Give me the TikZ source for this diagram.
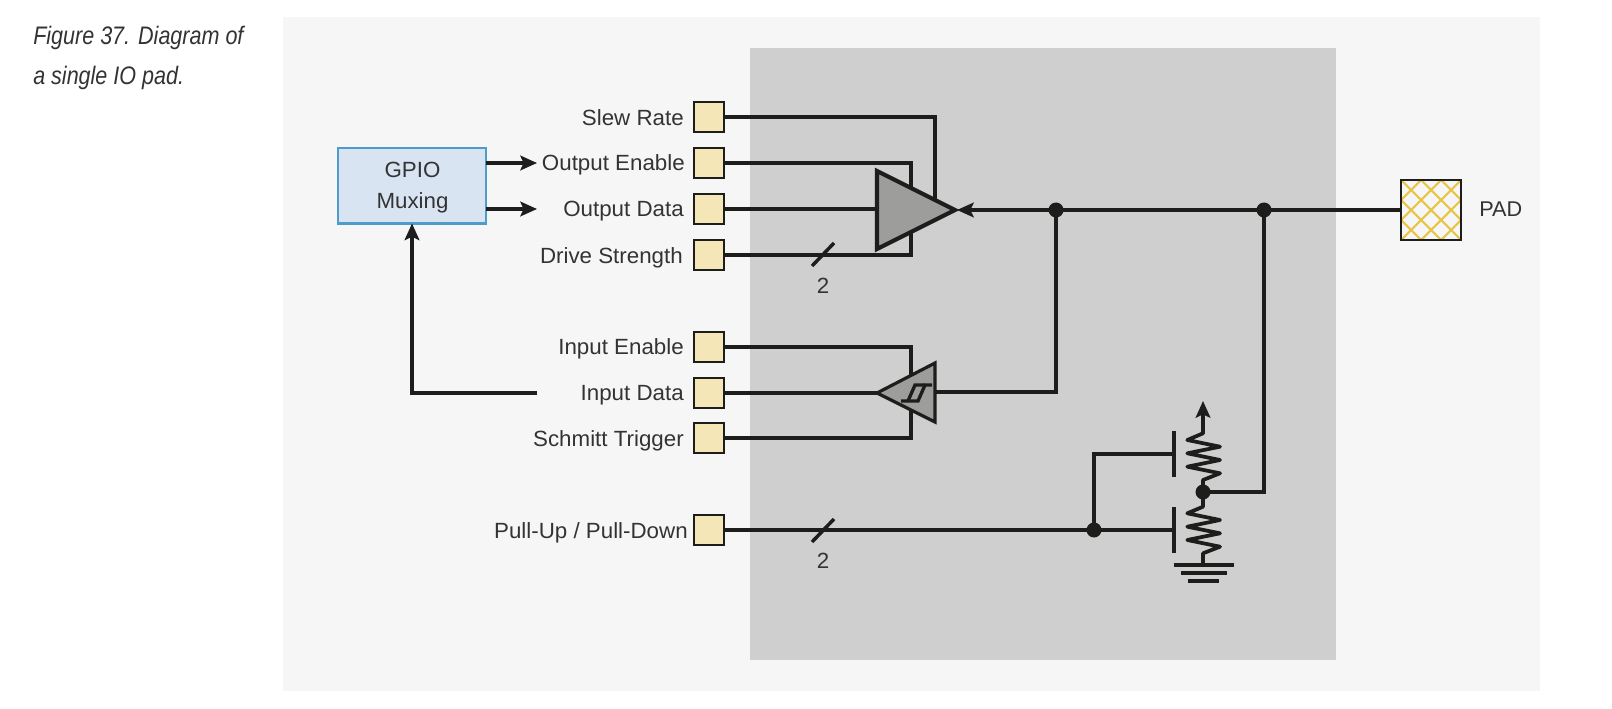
\documentclass[tikz,border=0pt]{standalone}
\usepackage{fontspec}
\setmainfont{Liberation Sans}[FakeStretch=1.015]
\newfontfamily\capfont[FakeStretch=0.85]{Liberation Sans}
\usetikzlibrary{arrows.meta}
\definecolor{ink}{HTML}{1D1D1B}
\definecolor{txt}{HTML}{333333}
\definecolor{panel}{HTML}{F6F6F6}
\definecolor{chip}{HTML}{CFCFCF}
\definecolor{tan}{HTML}{F5E6B8}
\definecolor{tri}{HTML}{9D9D9C}
\definecolor{gbox}{HTML}{D9E4F3}
\definecolor{gline}{HTML}{4F9BC9}
\definecolor{hatch}{HTML}{E8C547}
\tikzset{
  wire/.style={draw=ink,line width=2.95pt,line join=miter},
  thinwire/.style={draw=ink,line width=2.5pt,line join=miter},
  tip/.style={-{Stealth[length=12.5pt,width=11pt,inset=2.5pt]}},
  padbox/.style={draw=ink,fill=tan,line width=1.5pt,minimum size=22.5pt,inner sep=0pt,outer sep=0pt},
  lab/.style={anchor=base east,inner sep=0pt,text=txt,font=\fontsize{16.5}{18}\selectfont},
  lab2/.style={anchor=base,inner sep=0pt,text=txt,font=\fontsize{16.5}{18}\selectfont},
  dotn/.style={circle,fill=ink,minimum size=11.25pt,inner sep=0pt,outer sep=0pt},
  amp/.style={draw=ink,fill=tri,line width=3.1pt,line join=miter},
  amps/.style={draw=ink,fill=tri,line width=2.4pt,line join=miter},
  res/.style={draw=ink,line width=2.8pt,line join=round},
  gate/.style={draw=ink,line width=3.2pt},
  gnd/.style={draw=ink,line width=3.2pt},
  slash/.style={draw=ink,line width=2.6pt},
}
\begin{document}
\begin{tikzpicture}[x=0.75pt,y=-0.75pt]
\useasboundingbox (0,0) rectangle (1612,709);
\fill[white] (0,0) rectangle (1612,709);
\fill[panel] (283,17) rectangle (1540,691);
\fill[chip] (750,48) rectangle (1336,660);

% caption
\node[anchor=base west,inner sep=0pt,text=txt,font=\fontsize{19}{20}\selectfont\capfont\itshape] (cap1) at (33,45) {Figure 37. Diagram of};
\node[anchor=base west,inner sep=0pt,text=txt,font=\fontsize{19}{20}\selectfont\capfont\itshape] (cap2) at (33,85) {a single IO pad.};

% input squares
\node[padbox] (sr) at (709,117) {};
\node[padbox] (oe) at (709,163) {};
\node[padbox] (od) at (709,209) {};
\node[padbox] (ds) at (709,255) {};
\node[padbox] (ie) at (709,347) {};
\node[padbox] (id) at (709,393) {};
\node[padbox] (st) at (709,438) {};
\node[padbox] (pu) at (709,530) {};

% labels
\node[lab] (lsr) at (684,125.5) {Slew Rate};
\node[lab] (loe) at (685,171) {Output Enable};
\node[lab] (lod) at (684,217) {Output Data};
\node[lab] (lds) at (683,263) {Drive Strength};
\node[lab] (lie) at (684,354) {Input Enable};
\node[lab] (lid) at (684,400) {Input Data};
\node[lab] (lst) at (684,446) {Schmitt Trigger};
\node[lab] (lpu) at (688,538) {Pull-Up / Pull-Down};
\node[lab2] (two1) at (823,293) {2};
\node[lab2] (two2) at (823,568) {2};
\node[anchor=base west,inner sep=0pt,text=txt,font=\fontsize{16}{18}\selectfont] (lpad) at (1479,217) {PAD};

% GPIO box
\node[draw=gline,fill=gbox,line width=1.7pt,minimum width=110.6pt,minimum height=56.6pt,inner sep=0pt,outer sep=0pt] (gpio) at (412,185.7) {};
\node[lab2] (g1) at (412.5,178) {GPIO};
\node[lab2] (g2) at (412.5,209) {Muxing};

% free ends and junctions
\coordinate (oeA) at (537,163);
\coordinate (odA) at (537,209);
\coordinate (idS) at (537,393);
\coordinate (ampA) at (957,210);
\coordinate (ampT) at (955,210);
\node[dotn] (j1) at (1056,210) {};
\node[dotn] (j2) at (1264,210) {};
\node[dotn] (j3) at (1203,492) {};
\node[dotn] (j4) at (1094,530) {};

% pad
\node[draw=ink,fill=panel,line width=1.5pt,minimum size=45.5pt,inner sep=0pt,outer sep=0pt] (pad) at (1431,210) {};
\begin{scope}
\clip (pad.south west) rectangle (pad.north east);
\foreach \k in {-3,...,3} {
  \draw[hatch,line width=1.6pt] (1400.7+\k*20,179.7) -- (1461.3+\k*20,240.3);
  \draw[hatch,line width=1.6pt] (1400.7+\k*20,240.3) -- (1461.3+\k*20,179.7);
}
\end{scope}
\draw[draw=ink,line width=1.5pt] (pad.south west) rectangle (pad.north east);

% GPIO arrows
\draw[wire,tip] (gpio.east |- oeA) -- (oeA);
\draw[wire,tip] (gpio.east |- odA) -- (odA);
\draw[wire,tip] (idS) -- (gpio.south |- idS) -- (gpio.south);

% output buffer wires
\draw[wire] (sr.east) -- (935,117) -- (935,205);
\draw[wire] (oe.east) -- (911,163) -- (911,200);
\draw[wire] (od.east) -- (878,209);
\draw[wire] (ds.east) -- (911,255) -- (911,225);
\draw[slash] (812,266) -- (834,243);
\draw[wire,tip] (pad.west |- j1) -- (ampA);
% input buffer wires
\draw[wire] (ie.east) -- (911,347) -- (911,382);
\draw[wire] (id.east) -- (880,393);
\draw[wire] (st.east) -- (911,438) -- (911,405);
\draw[thinwire] (j1.center) -- (1056,392) -- (935,392);
% pull network
\draw[wire] (j3.center) -- (1264,492) -- (j2.center);
\draw[wire] (pu.east) -- (1172,530);
\draw[slash] (812,542) -- (834,519);
\draw[thinwire] (j4.center) -- (1094,454) -- (1172,454);
\draw[gate] (1174,431) -- (1174,477);
\draw[gate] (1174,507) -- (1174,553);
\draw[res,tip] (j3.center) -- (1203,480) -- (1220,473.3) -- (1187.3,466.7) -- (1220,460) -- (1187.3,453.3) -- (1220,446.7) -- (1187.3,440) -- (1203,433.3) -- (1203,401);
\draw[res] (j3.center) -- (1203,506.7) -- (1187.3,513.3) -- (1220,520) -- (1187.3,526.7) -- (1220,533.3) -- (1187.3,540) -- (1220,546.7) -- (1203,553.3) -- (1203,565);
\draw[gnd] (1174,565) -- (1234,565);
\draw[gnd] (1181,573) -- (1227,573);
\draw[gnd] (1188,581) -- (1219,581);

% buffers
\draw[amp] (877,171) -- (ampT) -- (877,249) -- cycle;
\draw[amps] (877,393) -- (935,363) -- (935,422) -- cycle;
\draw[draw=ink,line width=2.5pt,line join=miter] (901,401) -- (918,401) -- (925,385) -- (932,385);
\draw[draw=ink,line width=2.5pt] (908,401) -- (915,385) -- (925,385);
\end{tikzpicture}
\end{document}
